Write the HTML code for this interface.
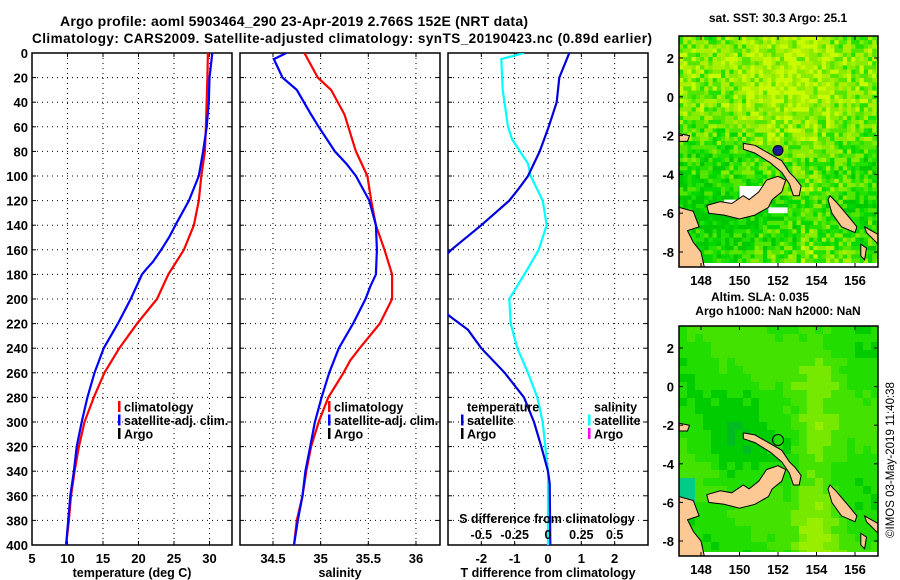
<!DOCTYPE html>
<html><head><meta charset="utf-8"><style>
html,body{margin:0;padding:0;background:#fff;}
svg{display:block;font-family:"Liberation Sans",sans-serif;font-weight:bold;}
</style></head><body>
<svg id="fig" width="900" height="580" viewBox="0 0 900 580" xmlns="http://www.w3.org/2000/svg">
<defs>
<clipPath id="c1"><rect x="32" y="53" width="200" height="492"/></clipPath>
<clipPath id="c2"><rect x="240" y="53" width="200" height="492"/></clipPath>
<clipPath id="c3"><rect x="448" y="53" width="200" height="492"/></clipPath>
<clipPath id="m1"><rect x="679" y="36" width="199" height="231"/></clipPath>
<clipPath id="m2"><rect x="679" y="326" width="199" height="230"/></clipPath>
</defs>
<text x="294" y="26" text-anchor="middle" font-size="14" textLength="468">Argo profile: aoml 5903464_290 23-Apr-2019 2.766S 152E (NRT data)</text>
<text x="342" y="43" text-anchor="middle" font-size="13.5" textLength="620">Climatology: CARS2009. Satellite-adjusted climatology: synTS_20190423.nc (0.89d earlier)</text>
<g id="p1"></g>
<g id="p2"></g>
<g id="p3"></g>
<g id="map1"></g>
<g id="map2"></g>
<text x="778" y="22" text-anchor="middle" font-size="12">sat. SST: 30.3 Argo: 25.1</text>
<text x="760" y="301" text-anchor="middle" font-size="12">Altim. SLA: 0.035</text>
<text x="778" y="315" text-anchor="middle" font-size="12">Argo h1000: NaN h2000: NaN</text>
<text transform="translate(894,460) rotate(-90)" text-anchor="middle" font-size="11.5" font-weight="normal">©IMOS 03-May-2019 11:40:38</text>
</svg>
<script>
// ---- data (depth in dbar) ----
const depthTc = [0,20,60,80,100,120,140,160,180,200,220,240,260,280,300,320,340,360,380,400];
const tempClim = [29.77,29.7,29.5,29.35,28.85,28.5,27.8,26.4,24.2,22.6,19.8,17.3,15.2,13.7,12.4,11.6,11.0,10.5,10.2,9.8];
const depthTs = [0,20,40,60,80,100,120,140,150,160,170,175,180,200,220,240,260,280,300,320,340,360,380,400];
const tempSat = [30.4,30.0,29.9,29.6,29.1,28.5,27.1,25.2,24.3,23.2,22.0,21.2,20.5,18.9,17.1,15.1,13.8,12.8,12.0,11.3,10.9,10.4,10.1,9.8];
const depthSc = [0,20,30,50,80,100,120,140,160,180,200,220,240,250,260,280,300,320,340,360,380,400];
const salClim = [34.83,34.97,35.11,35.25,35.37,35.49,35.53,35.58,35.67,35.75,35.75,35.62,35.41,35.31,35.24,35.08,34.98,34.90,34.85,34.81,34.75,34.72];
const depthSs = [0,5,20,30,50,60,80,90,100,120,140,160,180,190,200,220,240,260,280,300,320,340,360,380,400];
const salSat = [34.64,34.51,34.60,34.75,34.90,34.98,35.15,35.27,35.37,35.51,35.58,35.59,35.58,35.52,35.47,35.34,35.19,35.09,35.01,34.94,34.89,34.84,34.81,34.76,34.72];
const depthTd = [0,20,40,60,80,100,110,120,140,160,180,200,215,225,240,260,280,300,320,340,350,400];
const tDiff = [0.64,0.34,0.26,0.02,-0.25,-0.6,-0.87,-1.16,-2.0,-2.9,-3.6,-3.6,-2.9,-2.4,-2.0,-1.3,-0.72,-0.42,-0.2,0,0.05,0.07];
const depthSd = [0,5,30,60,70,90,100,120,140,160,175,200,220,240,260,280,300,320,340,400];
const sDiff = [-0.18,-0.35,-0.34,-0.30,-0.27,-0.15,-0.13,-0.04,-0.01,-0.07,-0.15,-0.29,-0.28,-0.23,-0.15,-0.08,-0.04,-0.02,0,0];
const depthTicks = [0,20,40,60,80,100,120,140,160,180,200,220,240,260,280,300,320,340,360,380,400];
const tTicks = [5,10,15,20,25,30];
const sTicks = [34.5,35,35.5,36];
const dTicks = [-2,-1,0,1,2];
const sdTicks = [-0.5,-0.25,0,0.25,0.5];
const sdTickLabels = ['-0.5','-0.25','0','0.25','0.5'];
const latTicks = [2,0,-2,-4,-6,-8];
const lonTicks = [148,150,152,154,156];
const argoLon = [152.0];
const argoLat = [-2.766];

const NS='http://www.w3.org/2000/svg';
function mk(tag,attrs,parent){const e=document.createElementNS(NS,tag);for(const k in attrs)e.setAttribute(k,attrs[k]);parent.appendChild(e);return e;}
const Y0=53,Y1=545;
const yD=d=>Y0+(d/400)*(Y1-Y0);

function panel(g,x0,x1,vmin,vmax,ticks,labels,xlabel,showY){
  const xs=v=>x0+(v-vmin)/(vmax-vmin)*(x1-x0);
  depthTicks.forEach((d,i)=>{
    if(i>0&&i<depthTicks.length-1){
      const l=mk('line',{x1:x0,x2:x1,y1:yD(d),y2:yD(d),stroke:'#000','stroke-width':1,'stroke-dasharray':'1,4'},g);
      
      
    }
    mk('line',{x1:x0,x2:x0+4,y1:yD(d),y2:yD(d),stroke:'#000'},g);
    mk('line',{x1:x1-4,x2:x1,y1:yD(d),y2:yD(d),stroke:'#000'},g);
    if(showY){
      const t=mk('text',{x:x0-4,y:yD(d)+5,'text-anchor':'end','font-size':13},g);
      t.textContent=d;
      
      
    }
  });
  ticks.forEach((v,i)=>{
    const x=xs(v);
    const l=mk('line',{x1:x,x2:x,y1:Y0,y2:Y1,stroke:'#000','stroke-width':1,'stroke-dasharray':'1,4'},g);
    
    
    mk('line',{x1:x,x2:x,y1:Y0,y2:Y0+4,stroke:'#000'},g);
    mk('line',{x1:x,x2:x,y1:Y1-4,y2:Y1,stroke:'#000'},g);
    const t=mk('text',{x:x,y:563,'text-anchor':'middle','font-size':13},g);
    t.textContent=labels[i];
    
    
  });
  const xl=mk('text',{x:(x0+x1)/2,y:577,'text-anchor':'middle','font-size':12.5},g);
  xl.textContent=xlabel;
  
  
  const fr=mk('rect',{x:x0,y:Y0,width:x1-x0,height:Y1-Y0,fill:'none',stroke:'#000','stroke-width':1.5},g);
  
  
  return xs;
}
function line(g,xs,vals,depths,color,clip,name,w){
  const p=vals.map((v,i)=>xs(v).toFixed(1)+','+yD(depths[i]).toFixed(1)).join(' ');
  const e=mk('polyline',{points:p,fill:'none',stroke:color,'stroke-width':w||2.2,'clip-path':'url(#'+clip+')'},g);
  
  
}
function legend(g,x,rows){
  rows.forEach((r,i)=>{
    const y=407+i*13.5;
    if(r.c){mk('rect',{x:x,y:y-6,width:2.5,height:11,fill:r.c},g);}
    const t=mk('text',{x:x+6,y:y+4.5,'font-size':12.5},g);
    t.textContent=r.t;
    
    
  });
}
const g1=document.getElementById('p1'),g2=document.getElementById('p2'),g3=document.getElementById('p3');
const xs1=panel(g1,32,232,5,33.17,tTicks,tTicks,'temperature (deg C)',true);
line(g1,xs1,tempClim,depthTc,'#ff0000','c1','climatology-temperature-line');
line(g1,xs1,tempSat,depthTs,'#0000ff','c1','satellite-temperature-line');
legend(g1,118,[{c:'#f00',t:'climatology'},{c:'#00f',t:'satellite-adj. clim.'},{c:'#000',t:'Argo'}]);
const xs2=panel(g2,240,440,34.154,36.252,sTicks,sTicks,'salinity',false);
line(g2,xs2,salClim,depthSc,'#ff0000','c2','climatology-salinity-line');
line(g2,xs2,salSat,depthSs,'#0000ff','c2','satellite-salinity-line');
legend(g2,328,[{c:'#f00',t:'climatology'},{c:'#00f',t:'satellite-adj. clim.'},{c:'#000',t:'Argo'}]);
const xs3=panel(g3,448,648,-3,3,dTicks,dTicks,'T difference from climatology',false);
line(g3,xs3,sDiff.map(v=>v*4),depthSd,'#00ffff','c3','salinity-difference-line');
line(g3,xs3,tDiff,depthTd,'#0000dd','c3','temperature-difference-line');
legend(g3,461,[{c:null,t:'temperature'},{c:'#0000dd',t:'satellite'},{c:'#000',t:'Argo'}]);
legend(g3,588,[{c:null,t:'salinity'},{c:'#00ffff',t:'satellite'},{c:'#ff00ff',t:'Argo'}]);
const st=mk('text',{x:547,y:523,'text-anchor':'middle','font-size':12.5},g3);
st.textContent='S difference from climatology';


sdTicks.forEach((v,i)=>{
  const t=mk('text',{x:xs3(v*4),y:539,'text-anchor':'middle','font-size':12.5},g3);
  t.textContent=sdTickLabels[i];
  
  
});

// ---- maps ----
const LON0=146.86;
function hash(i,j,s){let h=(i*374761393+j*668265263+s*2147483647)|0;h=(h^(h>>>13))*1274126177|0;return ((h^(h>>>16))>>>0)/4294967296;}
const land=[
 [[150.2,-2.4],[150.8,-2.5],[151.5,-2.9],[152.2,-3.3],[152.6,-3.9],[152.9,-4.2],[153.2,-4.6],[153.1,-5.1],[152.8,-5.1],[152.6,-4.5],[152.2,-3.9],[151.6,-3.4],[150.8,-2.9],[150.2,-2.7]],
 [[148.3,-5.6],[149.0,-5.4],[149.6,-5.5],[150.2,-5.1],[150.5,-5.3],[151.0,-4.9],[151.4,-4.3],[152.0,-4.1],[152.4,-4.3],[152.2,-4.9],[151.7,-5.3],[151.5,-5.7],[150.8,-6.1],[150.0,-6.3],[149.2,-6.1],[148.4,-6.0]],
 [[154.7,-5.1],[155.0,-5.4],[155.6,-6.1],[156.1,-6.7],[156.0,-7.0],[155.3,-6.7],[154.8,-6.0],[154.6,-5.3]],
 [[146.86,-5.7],[147.6,-5.9],[147.9,-6.7],[147.3,-6.9],[147.6,-7.5],[148.0,-8.0],[148.2,-8.9],[146.86,-8.9]],
 [[146.86,-1.9],[147.4,-2.0],[147.3,-2.3],[146.86,-2.3]],
 [[156.5,-6.7],[157.2,-7.1],[157.2,-7.6],[156.6,-7.0]],
 [[156.3,-7.6],[156.6,-7.8],[156.5,-8.4],[156.3,-8.2]]
];
function drawMap(g,y0,y1,lat2y,kind){
  const xl=lon=>701+(lon-148)*19.25;
  const clip=kind===1?'m1':'m2';
  const cg=mk('g',{'clip-path':'url(#'+clip+')'},g);
  const cs=kind===1?4.2:8;
  for(let x=679,i=0;x<878;x+=cs,i++){
    for(let y=y0,j=0;y<y1;y+=cs,j++){
      let c;
      const lon=LON0+(x-679)/19.25, lat=3.2-(y-y0)/19.4;
      if(kind===1){
        let base=0.55+0.2*Math.sin(lat*0.5+1)+0.1*Math.cos(lon*0.7)-(lat<-5?0.15:0)+(lon>153&&lat<-4?0.15:0);
        base+=(hash(i,j,1)-0.5)*0.6;
        const cols=['#00c800','#00d800','#22e000','#55e600','#88ec00','#aaf000','#c8fa00'];
        c=cols[Math.max(0,Math.min(6,Math.floor(base*7)))];
      } else {
        let base=0.45+0.35*Math.exp(-Math.pow(lon-153.8,2)/1.2)*(lat<-1?1:0.5)+0.12*Math.sin(lat*0.8+lon*0.5)-0.25*Math.exp(-Math.pow(lon-149.5,2)/2-Math.pow(lat+3,2)/4);
        base+=(hash(i,j,2)-0.5)*0.12;
        if(lon<147.6&&lat<-4.6&&lat>-6)c='#00cc88';
        else{const cols=['#00bb22','#00cc00','#22dd00','#44e200','#77e800','#99ee00'];c=cols[Math.max(0,Math.min(5,Math.floor(base*6)))];}
      }
      mk('rect',{x:x,y:y,width:cs+0.3,height:cs+0.3,fill:c},cg);
    }
  }
  if(kind===1){
    [[150.0,-4.6,151.3,-5.4],[149.2,-5.3,150.2,-5.7],[151.5,-5.7,152.5,-6.0]].forEach(r=>{
      mk('rect',{x:xl(r[0]),y:lat2y(r[1]),width:xl(r[2])-xl(r[0]),height:lat2y(r[3])-lat2y(r[1]),fill:'#fff'},cg);
    });
  }
  mk('rect',{x:679,y:kind===1?263:552,width:199,height:6,fill:'#fff'},cg);
  land.forEach(poly=>{
    const p=mk('polygon',{points:poly.map(q=>xl(q[0]).toFixed(1)+','+lat2y(q[1]).toFixed(1)).join(' '),fill:'#fcc894',stroke:'#000','stroke-width':1},cg);
    
    
  });
  argoLon.forEach((lo,i)=>{
    const m=mk('circle',{cx:xl(lo),cy:lat2y(argoLat[i]),r:kind===1?5:5.5,fill:kind===1?'#1a1a9a':'none',stroke:'#000','stroke-width':1},g);
    
    
  });
  mk('rect',{x:679,y:y0,width:199,height:y1-y0,fill:'none',stroke:'#000','stroke-width':1.5},g);
  latTicks.forEach(v=>{
    const y=lat2y(v);
    mk('line',{x1:679,x2:683,y1:y,y2:y,stroke:'#000'},g);
    mk('line',{x1:874,x2:878,y1:y,y2:y,stroke:'#000'},g);
    const t=mk('text',{x:674,y:y+5,'text-anchor':'end','font-size':13},g);
    t.textContent=v;
    
    
  });
  lonTicks.forEach(v=>{
    const x=xl(v);
    mk('line',{x1:x,x2:x,y1:y0,y2:y0+4,stroke:'#000'},g);
    mk('line',{x1:x,x2:x,y1:y1-4,y2:y1,stroke:'#000'},g);
    const t=mk('text',{x:x,y:y1+18,'text-anchor':'middle','font-size':13},g);
    t.textContent=v;
    
    
  });
}
drawMap(document.getElementById('map1'),36,267,lat=>58+(2-lat)*19.4,1);
drawMap(document.getElementById('map2'),326,556,lat=>348+(2-lat)*19.3,2);
</script>
</body></html>
